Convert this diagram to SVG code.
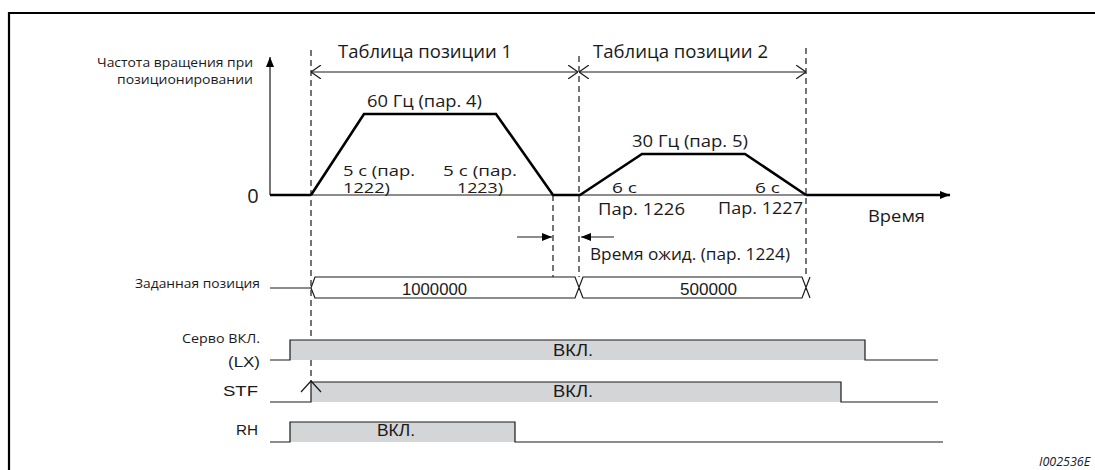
<svg xmlns="http://www.w3.org/2000/svg" width="1095" height="470" viewBox="0 0 1095 470">
<defs>
<style>
.t{font-family:"Open Sans","Noto Sans","Liberation Sans",sans-serif;fill:#1a1a1a}
.a{font-family:"Liberation Sans",Arial,sans-serif;fill:#1a1a1a}
.thin{fill:none;stroke:#1a1a1a;stroke-width:1.2}
.thick{fill:none;stroke:#000;stroke-width:2.6;stroke-linejoin:miter}
.dash{fill:none;stroke:#1a1a1a;stroke-width:1.2;stroke-dasharray:6,4}
.on{fill:#d4d5d7}
</style>
<marker id="fill" viewBox="0 0 10 8" refX="10" refY="4" markerWidth="10" markerHeight="8" markerUnits="userSpaceOnUse" orient="auto">
<path d="M0,0 L10,4 L0,8 Z" fill="#000"/>
</marker>
<marker id="open" viewBox="0 0 10 14" refX="10" refY="7" markerWidth="10" markerHeight="14" markerUnits="userSpaceOnUse" orient="auto-start-reverse">
<path d="M0,0 L10,7 L0,14" fill="none" stroke="#1a1a1a" stroke-width="1.2"/>
</marker>
</defs>
<rect width="1095" height="470" fill="#fff"/>

<g id="frame">
<path d="M9,470 V13 H1095" fill="none" stroke="#000" stroke-width="2.2"/>
</g>

<g id="axes">
<line x1="270" y1="195" x2="270" y2="57" class="thin" stroke-width="1.5" marker-end="url(#fill)"/>
<line x1="270" y1="195" x2="311" y2="195" class="thick"/>
<line x1="311" y1="195" x2="806" y2="195" class="thin"/>
<line x1="806" y1="195" x2="950" y2="195" class="thick" marker-end="url(#fill)"/>
<text x="253" y="203" class="t" font-size="20" text-anchor="middle">0</text>
<text class="t" font-size="12.5"><tspan x="97" y="67" textLength="156" lengthAdjust="spacingAndGlyphs">Частота вращения при</tspan><tspan x="117" y="84" textLength="136" lengthAdjust="spacingAndGlyphs">позиционировании</tspan></text>
<text x="868" y="222" class="t" font-size="15.5" textLength="57" lengthAdjust="spacingAndGlyphs">Время</text>
</g>

<g id="guides">
<line x1="311" y1="50" x2="311" y2="381" class="dash"/>
<line x1="579" y1="56" x2="579" y2="277" class="dash"/>
<line x1="806" y1="48" x2="806" y2="277" class="dash"/>
<line x1="553" y1="195" x2="553" y2="277" class="dash"/>
</g>

<g id="speed-profile">
<polyline points="311,195 364,114 496,114 553,195 580,195 642,154 745,154 806,195" class="thick"/>
</g>

<g id="table1">
<text x="338" y="58" class="t" font-size="17.5" textLength="174" lengthAdjust="spacingAndGlyphs">Таблица позиции 1</text>
</g>
<g id="table2">
<text x="593" y="58" class="t" font-size="17.5" textLength="175" lengthAdjust="spacingAndGlyphs">Таблица позиции 2</text>
</g>

<g id="labels">
<text x="367" y="107" class="t" font-size="16" textLength="115" lengthAdjust="spacingAndGlyphs">60 Гц (пар. 4)</text>
<text class="t" font-size="14"><tspan x="343" y="176" textLength="72" lengthAdjust="spacingAndGlyphs">5 с (пар.</tspan><tspan x="343" y="193" textLength="47" lengthAdjust="spacingAndGlyphs">1222)</tspan></text>
<text class="t" font-size="14"><tspan x="443" y="176" textLength="74" lengthAdjust="spacingAndGlyphs">5 с (пар.</tspan><tspan x="457" y="193" textLength="46" lengthAdjust="spacingAndGlyphs">1223)</tspan></text>
<text x="632" y="147" class="t" font-size="16" textLength="116" lengthAdjust="spacingAndGlyphs">30 Гц (пар. 5)</text>
<text x="612" y="193" class="t" font-size="15" textLength="25" lengthAdjust="spacingAndGlyphs">6 с</text>
<text x="598" y="215" class="t" font-size="15.5" textLength="87" lengthAdjust="spacingAndGlyphs">Пар. 1226</text>
<text x="755" y="193" class="t" font-size="15" textLength="25" lengthAdjust="spacingAndGlyphs">6 с</text>
<text x="718" y="214" class="t" font-size="15.5" textLength="85" lengthAdjust="spacingAndGlyphs">Пар. 1227</text>
<text x="590" y="260" class="t" font-size="15.5" textLength="200" lengthAdjust="spacingAndGlyphs">Время ожид. (пар. 1224)</text>
</g>

<g id="position">
<text x="135" y="288" class="t" font-size="12.5" textLength="125" lengthAdjust="spacingAndGlyphs">Заданная позиция</text>
<path d="M270,288 H311 L315,277 H575 L583,298 M311,288 L315,298 H575 L583,277 H802 L810,298 M583,298 H802 L810,277" class="thin"/>
<text x="402" y="295" class="a" font-size="16" textLength="65" lengthAdjust="spacingAndGlyphs">1000000</text>
<text x="680" y="295" class="a" font-size="16" textLength="57" lengthAdjust="spacingAndGlyphs">500000</text>
</g>

<g id="servo">
<text class="t" font-size="13"><tspan x="182" y="343" textLength="78" lengthAdjust="spacingAndGlyphs">Серво ВКЛ.</tspan><tspan x="228" y="367" font-family="Liberation Sans, Arial, sans-serif" font-size="15" textLength="32" lengthAdjust="spacingAndGlyphs">(LX)</tspan></text>
<rect x="290" y="340" width="575" height="20" class="on"/>
<path d="M270,360 H290 V340 H865 V360 H938" class="thin" stroke-width="1.3"/>
<text x="553" y="356" class="a" font-size="16.5" textLength="40" lengthAdjust="spacingAndGlyphs">ВКЛ.</text>
</g>

<g id="stf">
<text x="223" y="396" class="a" font-size="15" textLength="35" lengthAdjust="spacingAndGlyphs">STF</text>
<rect x="311" y="382" width="530" height="20" class="on"/>
<path d="M270,402 H311 V382 H841 V402 H938" class="thin" stroke-width="1.3"/>
<path d="M301,392 L311,381 L321,392" class="thin"/>
<text x="553" y="397" class="a" font-size="16.5" textLength="40" lengthAdjust="spacingAndGlyphs">ВКЛ.</text>
</g>

<g id="rh">
<text x="236" y="435" class="a" font-size="15" textLength="22" lengthAdjust="spacingAndGlyphs">RH</text>
<rect x="290" y="422" width="225" height="20" class="on"/>
<path d="M270,442 H290 V422 H515 V442 H943" class="thin" stroke-width="1.3"/>
<text x="377" y="436" class="a" font-size="16.5" textLength="38" lengthAdjust="spacingAndGlyphs">ВКЛ.</text>
</g>

<g id="connectors">
<line x1="311" y1="72" x2="578" y2="72" class="thin" marker-start="url(#open)" marker-end="url(#open)"/>
<line x1="579" y1="72" x2="806" y2="72" class="thin" marker-start="url(#open)" marker-end="url(#open)"/>
<line x1="517" y1="237" x2="552" y2="237" class="thin" marker-end="url(#fill)"/>
<line x1="614" y1="237" x2="581" y2="237" class="thin" marker-end="url(#fill)"/>
</g>

<text x="1039" y="466" class="t" font-size="12.5" font-style="italic">I002536E</text>
</svg>
